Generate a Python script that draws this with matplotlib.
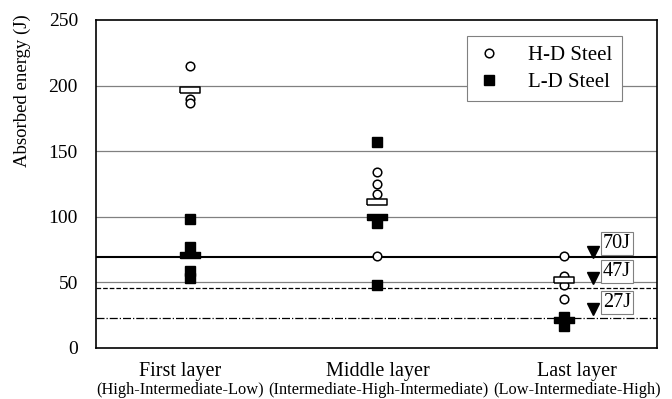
import matplotlib
matplotlib.use("Agg")
import matplotlib.pyplot as plt
import matplotlib.transforms as mtransforms

plt.rcParams["font.family"] = ["Liberation Serif", "DejaVu Serif"]

# data
categories = ["First layer", "Middle layer", "Last layer"]
conditions = ["(High-Intermediate-Low)", "(Intermediate-High-Intermediate)",
              "(Low-Intermediate-High)"]
hd_values = [[215, 190, 187], [134, 125, 117, 70], [70, 55, 48, 37]]
hd_means = [197, 111.5, 52]
ld_values = [[98, 77, 59, 53], [157, 95, 48], [24, 17]]
ld_means = [71, 99.5, 21]
threshold_levels = [69, 45.5, 23]
threshold_labels = ["70J", "47J", "27J"]
threshold_styles = ["-", "--", "-."]

# where the threshold tags sit (layout only)
tag_y = [73.5, 53, 30]
tag_text_y = [80, 58.5, 35]
label_x = [0.95, 2.01, 3.07]

bar_marker = [(-1, -0.25), (1, -0.25), (1, 0.25), (-1, 0.25), (-1, -0.25)]

fig = plt.figure(figsize=(6.72, 3.99), dpi=100)
ax = fig.add_axes([96 / 672, 51 / 399, 561 / 672, 328 / 399])

ax.set_xlim(0.5, 3.5)
ax.set_ylim(0, 250)
ax.set_yticks([0, 50, 100, 150, 200, 250])
ax.set_xticks([])
ax.tick_params(axis="y", length=0, labelsize=14, pad=13)
for s in ax.spines.values():
    s.set_linewidth(1.2)
    s.set_color("black")

for y in [50, 100, 150, 200]:
    ax.axhline(y, color="#808080", lw=0.9, zorder=1)

for level, ls in zip(threshold_levels, threshold_styles):
    lw = 1.5 if ls == "-" else 0.9
    ax.axhline(level, color="black", lw=lw, ls=ls, zorder=2)

for i in range(3):
    x = i + 1
    ax.plot([x] * len(ld_values[i]), ld_values[i], ls="none", marker="s",
            ms=6.5, mfc="black", mec="black", zorder=4)
    ax.plot([x], [ld_means[i]], ls="none", marker=bar_marker, ms=14.5,
            mfc="black", mec="black", mew=1.0, zorder=5)
    ax.plot([x] * len(hd_values[i]), hd_values[i], ls="none", marker="o",
            ms=6.2, mfc="white", mec="black", mew=1.1, zorder=6)
    ax.plot([x], [hd_means[i]], ls="none", marker=bar_marker, ms=14.5,
            mfc="white", mec="black", mew=1.1, zorder=7)

for ty, tty, lab in zip(tag_y, tag_text_y, threshold_labels):
    ax.plot([3.158], [ty], ls="none", marker="v", ms=9, color="black",
            zorder=8)
    ax.text(3.21, tty, lab, fontsize=14.5, va="center", ha="left",
            bbox=dict(boxstyle="square,pad=0.1", fc="white", ec="#808080",
                      lw=0.8), zorder=9)

trans = mtransforms.blended_transform_factory(ax.transData, fig.transFigure)
for lx, cat, cond in zip(label_x, categories, conditions):
    fig.text(lx, 1 - 371.5 / 399, cat, transform=trans, ha="center",
             va="center", fontsize=14.5)
    fig.text(lx, 1 - 390 / 399, cond, transform=trans, ha="center",
             va="center", fontsize=11.8)

fig.text(22 / 672, 1 - 91 / 399, "Absorbed energy (J)", rotation=90,
         ha="center", va="center", fontsize=13.5)

h1, = ax.plot([], [], ls="none", marker="o", ms=6.2, mfc="white",
              mec="black", mew=1.1)
h2, = ax.plot([], [], ls="none", marker="s", ms=6.5, color="black")
leg = ax.legend([h1, h2], ["H-D Steel", "L-D Steel"], loc="upper right",
                bbox_to_anchor=(0.9376, 0.951), fontsize=15, fancybox=False,
                edgecolor="#808080", framealpha=1, handlelength=1.2,
                handletextpad=1.3, borderpad=0.45, labelspacing=0.35,
                borderaxespad=0)
leg.get_frame().set_linewidth(0.8)
leg.set_zorder(10)

fig.savefig("out.png", dpi=100)
